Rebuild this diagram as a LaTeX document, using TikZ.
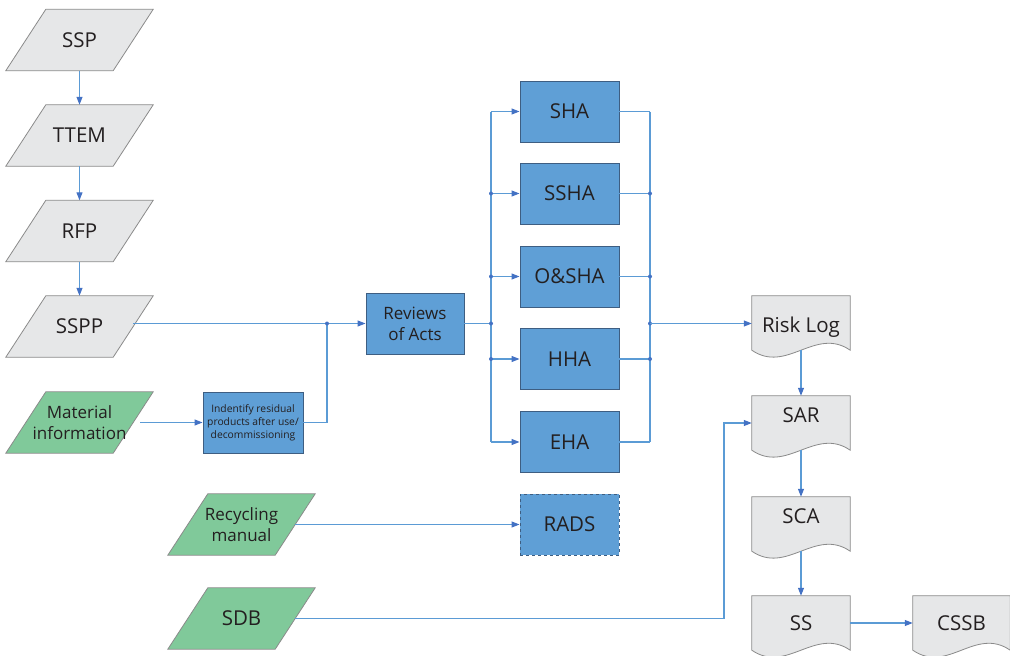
\documentclass[tikz,border=0pt]{standalone}
\usepackage{fontspec}
\setmainfont{Open Sans}
\usetikzlibrary{arrows.meta,backgrounds,calc}
\definecolor{boxblue}{HTML}{5F9FD6}
\definecolor{boxedge}{HTML}{3E5E82}
\definecolor{paper}{HTML}{E6E7E8}
\definecolor{paperedge}{HTML}{8A8A8A}
\definecolor{leaf}{HTML}{80C99A}
\definecolor{wireblue}{HTML}{5B9BD5}
\definecolor{tipblue}{HTML}{4472C4}
\definecolor{ink}{HTML}{231F20}

\begin{document}
\begin{tikzpicture}[x=1pt,y=-1pt,
  every node/.style={text=ink, inner sep=0pt},
  big/.style={font=\fontsize{20.5}{24}\selectfont},
  mid/.style={font=\fontsize{17}{21}\selectfont, align=center},
  tiny/.style={font=\fontsize{10.3}{13}\selectfont, align=center},
  parabody/.style={minimum width=107pt, minimum height=61pt},
  bluebox/.style={draw=boxedge, fill=boxblue, line width=0.9pt, minimum width=99pt, minimum height=61pt},
  docbody/.style={minimum width=98pt, minimum height=54pt},
  link/.style={draw=wireblue, line width=1.1pt},
  arr/.style={link, -{Triangle[length=8pt,width=6pt,color=tipblue]}},
  junction/.style={circle, fill=tipblue, minimum size=4pt, inner sep=0pt}
]
\path[use as bounding box] (0,0) rectangle (1010,656);

% input parallelograms (text bodies; outlines drawn on the background layer)
\node[parabody,big] (SSP)  at (79.5,40)    {SSP};
\node[parabody,big] (TTEM) at (79.5,135.5) {TTEM};
\node[parabody,big] (RFP)  at (79.5,231)   {RFP};
\node[parabody,big] (SSPP) at (79.5,326.5) {SSPP};
\node[parabody,mid] (Mat)  at (79.5,422.5) {Material\\information};
\node[parabody,mid] (Rec)  at (241.5,524.5) {Recycling\\manual};
\node[parabody,big] (SDB)  at (241.5,618.5) {SDB};

% process boxes
\node[bluebox,tiny,minimum width=100pt] (Ind) at (253,422.5)
  {Indentify residual\\products after use/\\decommissioning};
\node[bluebox,mid,minimum width=98pt] (Rev) at (415,323.5) {Reviews\\of Acts};
\node[bluebox,big] (SHA)  at (569.5,111.5) {SHA};
\node[bluebox,big] (SSHA) at (569.5,193.5) {SSHA};
\node[bluebox,big] (OSHA) at (569.5,276.5) {O\&SHA};
\node[bluebox,big] (HHA)  at (569.5,359)   {HHA};
\node[bluebox,big] (EHA)  at (569.5,442)   {EHA};
\node[bluebox,big,dashed] (RADS) at (569.5,524.5) {RADS};

% documents (bodies, then labels)
\node[docbody] (RL)   at (801,323)   {};
\node[docbody] (SAR)  at (801,423)   {};
\node[docbody] (SCA)  at (801,524)   {};
\node[docbody] (SS)   at (801,623)   {};
\node[docbody,minimum width=97pt] (CSSB) at (961.5,623) {};
\node[big] (tRL)   at ($(RL)+(0,4)$)   {Risk Log};
\node[big] (tSAR)  at ($(SAR)+(0,-8)$) {SAR};
\node[big] (tSCA)  at ($(SCA)+(0,-8)$) {SCA};
\node[big] (tSS)   at (SS)   {SS};
\node[big] (tCSSB) at (CSSB) {CSSB};

\begin{scope}[on background layer]
  \foreach \n/\f in {SSP/paper,TTEM/paper,RFP/paper,SSPP/paper,Mat/leaf,Rec/leaf,SDB/leaf}
    \filldraw[fill=\f, draw=paperedge, line width=0.8pt]
      ([xshift=-20pt]\n.south west) -- ([xshift=20pt]\n.north west)
      -- ([xshift=20pt]\n.north east) -- ([xshift=-20pt]\n.south east) -- cycle;
  \foreach \n in {RL,SAR,SCA,SS,CSSB}
    \filldraw[fill=paper, draw=paperedge, line width=0.8pt]
      (\n.south west) -- (\n.north west) -- (\n.north east) -- (\n.south east)
      .. controls +(-35,-24) and +(35,24) .. (\n.south west) -- cycle;
\end{scope}

% left column chain
\draw[arr] (SSP) -- (TTEM);
\draw[arr] (TTEM) -- (RFP);
\draw[arr] (RFP) -- (SSPP);

% inputs into the review
\coordinate (J) at (327,323.5);
\draw[arr] (SSPP.east |- Rev.west) -- (Rev.west);
\draw[arr] ([xshift=7pt]Mat.east) -- (Ind.west);
\draw[link] (Ind.east) -| (J);
\node[junction] at (J) {};

% distribution bus to the hazard analyses and collection bus
\coordinate (BL) at (491,323.5);
\coordinate (BR) at (650,323.5);
\draw[link] (Rev.east) -- (BL);
\draw[link] (BL |- SHA.west) -- (BL |- EHA.west);
\draw[link] (BR |- SHA.east) -- (BR |- EHA.east);
\foreach \b in {SHA,SSHA,OSHA,HHA,EHA} {
  \draw[arr] (BL |- \b.west) -- (\b.west);
  \draw[link] (\b.east) -- (BR |- \b.east);
}
\foreach \b in {SSHA,OSHA,HHA} {
  \node[junction] at (BL |- \b.west) {};
  \node[junction] at (BR |- \b.east) {};
}
\node[junction] at (BL) {};
\node[junction] at (BR) {};
\draw[arr] (BR) -- (RL.west |- BR);

% recycling and database inputs
\draw[arr] (Rec.east) -- (RADS.west);
\coordinate (K) at (724,423);
\draw[arr] (SDB.east) -| (K) -- (SAR.west);

% document chain
\draw[arr] (RL.south) -- (SAR.north);
\draw[arr] (SAR.south) -- (SCA.north);
\draw[arr] (SCA.south) -- (SS.north);
\draw[arr] (SS.east) -- (CSSB.west);
\end{tikzpicture}
\end{document}
